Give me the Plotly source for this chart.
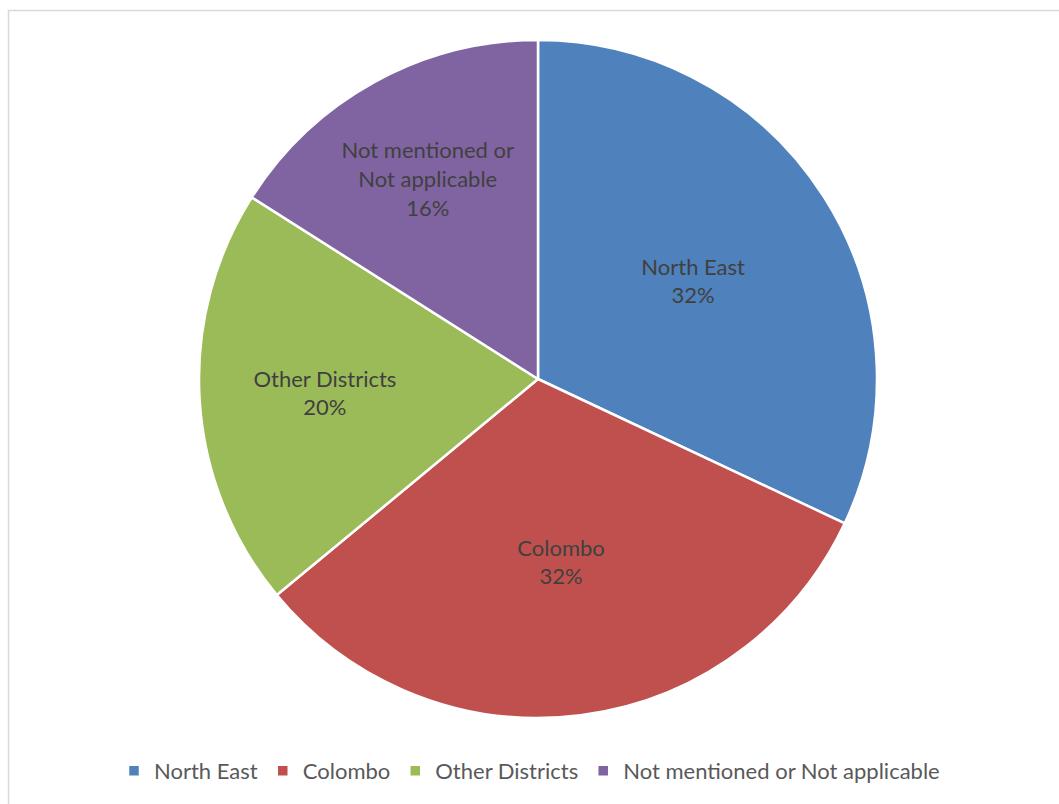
import plotly.graph_objects as go

categories = ["North East", "Colombo", "Other Districts", "Not mentioned or Not applicable"]
wrapped_labels = ["North East", "Colombo", "Other Districts", "Not mentioned or<br>Not applicable"]
values = [32, 32, 20, 16]
colors = ["#4F81BD", "#C0504D", "#9BBB59", "#8064A2"]

W, H = 1059, 804
cx, cy, r = 538, 379, 339

fig = go.Figure(go.Pie(
    labels=categories,
    values=values,
    customdata=wrapped_labels,
    sort=False,
    direction="clockwise",
    rotation=0,
    marker=dict(colors=colors, line=dict(color="white", width=2.5)),
    texttemplate="%{customdata}<br>%{percent:.0%}",
    textposition="inside",
    insidetextorientation="horizontal",
    textfont=dict(family="Lato, Open Sans, sans-serif", size=22, color="#404040"),
    hoverinfo="label+percent",
    domain=dict(x=[(cx - r) / W, (cx + r) / W], y=[1 - (cy + r) / H, 1 - (cy - r) / H]),
))

fig.update_layout(
    width=W, height=H,
    margin=dict(l=0, r=0, t=0, b=0),
    paper_bgcolor="white",
    font=dict(family="Lato, Open Sans, sans-serif", color="#595959"),
    legend=dict(
        orientation="h", x=0.5, xanchor="center", y=1 - 771 / H, yanchor="middle",
        font=dict(size=22, color="#595959"), itemwidth=30, tracegroupgap=0,
    ),
    shapes=[dict(type="rect", xref="paper", yref="paper",
                 x0=8.5 / W, x1=1.01, y0=-0.01, y1=1 - 10.5 / H,
                 line=dict(color="#D9D9D9", width=1.5), fillcolor="rgba(0,0,0,0)")],
)

fig.write_html("out.html")
